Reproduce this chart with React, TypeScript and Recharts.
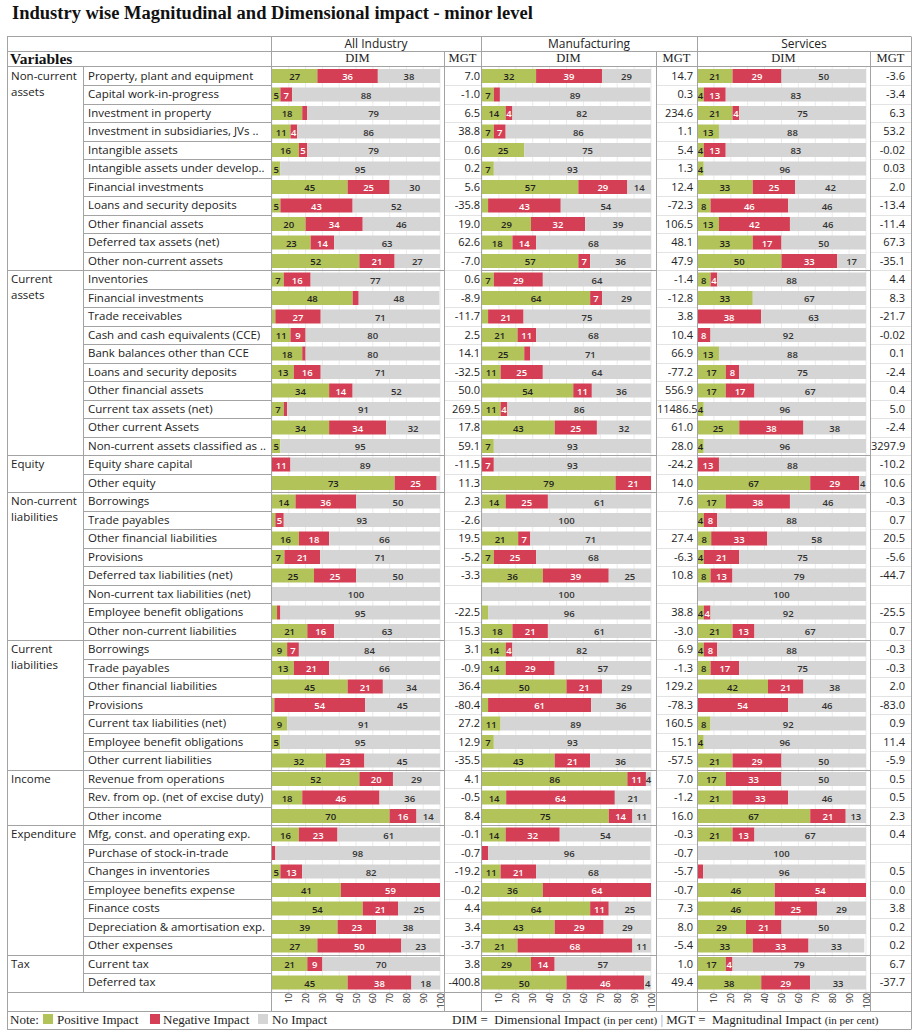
import React from "react";
import { BarChart, Bar, XAxis, YAxis, CartesianGrid, LabelList } from "recharts";

// ---------------- DATA ----------------
const groupNames = [
  "Non-current assets",
  "Current assets",
  "Equity",
  "Non-current liabilities",
  "Current liabilities",
  "Income",
  "Expenditure",
  "Tax",
];
const groupSizes = [11, 10, 2, 8, 7, 3, 7, 2];

const variables = [
  "Property, plant and equipment",
  "Capital work-in-progress",
  "Investment in property",
  "Investment in subsidiaries, JVs ..",
  "Intangible assets",
  "Intangible assets under develop..",
  "Financial investments",
  "Loans and security deposits",
  "Other financial assets",
  "Deferred tax assets (net)",
  "Other non-current assets",
  "Inventories",
  "Financial investments",
  "Trade receivables",
  "Cash and cash equivalents (CCE)",
  "Bank balances other than CCE",
  "Loans and security deposits",
  "Other financial assets",
  "Current tax assets (net)",
  "Other current Assets",
  "Non-current assets classified as ..",
  "Equity share capital",
  "Other equity",
  "Borrowings",
  "Trade payables",
  "Other financial liabilities",
  "Provisions",
  "Deferred tax liabilities (net)",
  "Non-current tax liabilities (net)",
  "Employee benefit obligations",
  "Other non-current liabilities",
  "Borrowings",
  "Trade payables",
  "Other financial liabilities",
  "Provisions",
  "Current tax liabilities (net)",
  "Employee benefit obligations",
  "Other current liabilities",
  "Revenue from operations",
  "Rev. from op. (net of excise duty)",
  "Other income",
  "Mfg, const. and operating exp.",
  "Purchase of stock-in-trade",
  "Changes in inventories",
  "Employee benefits expense",
  "Finance costs",
  "Depreciation & amortisation exp.",
  "Other expenses",
  "Current tax",
  "Deferred tax",
];

const allPositive = [27, 5, 18, 11, 16, 5, 45, 5, 20, 23, 52, 7, 48, 2, 11, 18, 13, 34, 7, 34, 5, 0, 73, 14, 2, 16, 7.4, 25, 0, 3, 21, 9, 13, 45, 1.4, 9, 5, 32, 52, 18, 70, 16, 0, 5, 41, 54, 39, 27, 21, 45];
const allNegative = [36, 7, 3, 4, 5, 0, 25, 43, 34, 14, 21, 16, 3.6, 27, 9, 2, 16, 14, 2, 34, 0, 11, 25, 36, 5, 18, 21.3, 25, 0, 2, 16, 7, 21, 21, 54, 0, 0, 23, 20, 46, 16, 23, 2, 13, 59, 21, 23, 50, 9, 38];
const allNoImpact = [38, 88, 79, 86, 79, 95, 30, 52, 46, 63, 27, 77, 48, 71, 80, 80, 71, 52, 91, 32, 95, 89, 2, 50, 93, 66, 71.3, 50, 100, 95, 63, 84, 66, 34, 45, 91, 95, 45, 29, 36, 14, 61, 98, 82, 0, 25, 38, 23, 70, 18];

const mfgPositive = [32, 7, 14, 7, 25, 7, 57, 3.6, 29, 18, 57, 7, 64, 3.6, 21, 25, 11, 54, 11, 43, 7, 0, 79, 14, 0, 21.4, 7, 36, 0, 3.6, 18, 14, 14, 50, 3.6, 11, 7, 43, 86, 14.3, 75, 14, 0, 11, 36, 64, 43, 21, 29, 50];
const mfgNegative = [39, 3.6, 4, 7, 0, 0, 29, 43, 32, 14, 7, 29, 7, 21, 11, 3.6, 25, 11, 4, 25, 0, 7, 21, 25, 0, 7.2, 25, 39, 0, 0, 21, 4, 29, 21, 61, 0, 0, 21, 11, 64.3, 14, 32, 3.6, 21, 64, 11, 29, 68, 14, 46];
const mfgNoImpact = [29, 89, 82, 86, 75, 93, 14, 54, 39, 68, 36, 64, 29, 75, 68, 71, 64, 36, 86, 32, 93, 93, 0, 61, 100, 71.4, 68, 25, 100, 96, 61, 82, 57, 29, 36, 89, 93, 36, 4, 21.4, 11, 54, 96, 68, 0, 25, 29, 11, 57, 4];

const svcPositive = [21, 4, 21, 13, 4, 4, 33, 8, 13, 33, 50, 8, 33, 0, 0, 13, 17, 17, 4, 25, 4, 0, 67, 17, 4, 8.4, 4, 8, 0, 4, 21, 4, 8, 42, 0, 8, 4, 21, 17, 21, 67, 21, 0, 0, 46, 46, 29, 33, 17, 38];
const svcNegative = [29, 13, 4, 0, 13, 0, 25, 46, 42, 17, 33, 4, 0, 38, 8, 0, 8, 17, 0, 38, 0, 13, 29, 38, 8, 33.2, 21, 13, 0, 4, 13, 8, 17, 21, 54, 0, 0, 29, 33, 33, 21, 13, 0, 3.6, 54, 25, 21, 33, 4, 29];
const svcNoImpact = [50, 83, 75, 88, 83, 96, 42, 46, 46, 50, 17, 88, 67, 63, 92, 88, 75, 67, 96, 38, 96, 88, 4, 46, 88, 58.4, 75, 79, 100, 92, 67, 88, 75, 38, 46, 92, 96, 50, 50, 46, 13, 67, 100, 96, 0, 29, 50, 33, 79, 33];

const allMgt = ["7.0", "-1.0", "6.5", "38.8", "0.6", "0.2", "5.6", "-35.8", "19.0", "62.6", "-7.0", "0.6", "-8.9", "-11.7", "2.5", "14.1", "-32.5", "50.0", "269.5", "17.8", "59.1", "-11.5", "11.3", "2.3", "-2.6", "19.5", "-5.2", "-3.3", "", "-22.5", "15.3", "3.1", "-0.9", "36.4", "-80.4", "27.2", "12.9", "-35.5", "4.1", "-0.5", "8.4", "-0.1", "-0.7", "-19.2", "-0.2", "4.4", "3.4", "-3.7", "3.8", "-400.8"];
const mfgMgt = ["14.7", "0.3", "234.6", "1.1", "5.4", "1.3", "12.4", "-72.3", "106.5", "48.1", "47.9", "-1.4", "-12.8", "3.8", "10.4", "66.9", "-77.2", "556.9", "11486.5", "61.0", "28.0", "-24.2", "14.0", "7.6", "", "27.4", "-6.3", "10.8", "", "38.8", "-3.0", "6.9", "-1.3", "129.2", "-78.3", "160.5", "15.1", "-57.5", "7.0", "-1.2", "16.0", "-0.3", "-0.7", "-5.7", "-0.7", "7.3", "8.0", "-5.4", "1.0", "49.4"];
const svcMgt = ["-3.6", "-3.4", "6.3", "53.2", "-0.02", "0.03", "2.0", "-13.4", "-11.4", "67.3", "-35.1", "4.4", "8.3", "-21.7", "-0.02", "0.1", "-2.4", "0.4", "5.0", "-2.4", "3297.9", "-10.2", "10.6", "-0.3", "0.7", "20.5", "-5.6", "-44.7", "", "-25.5", "0.7", "-0.3", "-0.3", "2.0", "-83.0", "0.9", "11.4", "-5.9", "0.5", "0.5", "2.3", "0.4", "", "0.5", "0.0", "3.8", "0.2", "0.2", "6.7", "-37.7"];

const panelTitles = ["All Industry", "Manufacturing", "Services"];
const axisTicks = [10, 20, 30, 40, 50, 60, 70, 80, 90, 100];
const legendLabels = ["Positive Impact", "Negative Impact", "No Impact"];

// ---------------- STYLE / LAYOUT ----------------
const GREEN = "#b2c459";
const RED = "#d43f55";
const GRAY = "#d5d5d5";
const LINE = "#a3a3a3";
const FAINT = "#e3e3e3";
const SANS = '"Open Sans", "Noto Sans", sans-serif';
const SERIF = '"Liberation Serif", "Times New Roman", serif';

const TOP = 66.7;
const ROW = 18.5;
const AXIS_H = 19;
const PAD_R = 8;
const X0 = 7;
const XG = 83;
const XV = 271;
const XR = 911;
const HEAD_TOP = 35.5;
const HEAD_MID = 50.5;
const AXIS_BOTTOM = 1010.5;
const FOOT_BOTTOM = 1028.5;

const panelLayout = [
  { dimL: 271, dimR: 444, mgtR: 481, barL: 272, barW: 168, textR: 480 },
  { dimL: 481, dimR: 656, mgtR: 697, barL: 482, barW: 169, textR: 693 },
  { dimL: 697, dimR: 870, mgtR: 911, barL: 697, barW: 169, textR: 905 },
];

const panelSeries = [
  { pos: allPositive, neg: allNegative, none: allNoImpact, mgt: allMgt },
  { pos: mfgPositive, neg: mfgNegative, none: mfgNoImpact, mgt: mfgMgt },
  { pos: svcPositive, neg: svcNegative, none: svcNoImpact, mgt: svcMgt },
];

const AxisTick = (props: any) => {
  const { x, y, payload } = props;
  return (
    <text
      x={x}
      y={y}
      transform={`rotate(-90 ${x} ${y})`}
      textAnchor="end"
      dominantBaseline="central"
      fontSize={9}
      fontFamily={SANS}
      fill="#333"
    >
      {payload.value}
    </text>
  );
};

function makeLabel(color: string) {
  return (props: any) => {
    let v: any = props.value;
    if (Array.isArray(v)) v = v[1] - v[0];
    v = Number(v);
    if (!(v >= 3.8)) return null;
    const x = Number(props.x);
    const y = Number(props.y);
    const w = Number(props.width);
    const h = Number(props.height);
    return (
      <text
        x={x + w / 2}
        y={y + h / 2 + 0.5}
        textAnchor="middle"
        dominantBaseline="central"
        fontSize={9.5}
        fontWeight={600}
        fontFamily={SANS}
        fill={color}
      >
        {Math.round(v)}
      </text>
    );
  };
}

function Panel({ idx }: { idx: number }) {
  const s = panelSeries[idx];
  const L = panelLayout[idx];
  const rows = variables.map((name, i) => ({
    key: `r${i}`,
    name,
    pos: s.pos[i],
    neg: s.neg[i],
    none: s.none[i],
  }));
  return (
    <div style={{ position: "absolute", left: L.barL, top: TOP }}>
      <BarChart
        layout="vertical"
        width={L.barW + PAD_R}
        height={variables.length * ROW + AXIS_H}
        data={rows}
        margin={{ top: 0, right: PAD_R, bottom: 0, left: 0 }}
        barSize={14}
      >
        <CartesianGrid horizontal={false} stroke="#ebebeb" />
        <XAxis
          type="number"
          domain={[0, 100]}
          allowDataOverflow
          ticks={axisTicks}
          interval={0}
          axisLine={false}
          tickLine={false}
          tickSize={0}
          tickMargin={1}
          height={AXIS_H}
          tick={<AxisTick />}
        />
        <YAxis type="category" dataKey="key" hide />
        <Bar dataKey="pos" stackId="s" fill={GREEN} isAnimationActive={false}>
          <LabelList dataKey="pos" content={makeLabel("#222")} />
        </Bar>
        <Bar dataKey="neg" stackId="s" fill={RED} isAnimationActive={false}>
          <LabelList dataKey="neg" content={makeLabel("#ffffff")} />
        </Bar>
        <Bar dataKey="none" stackId="s" fill={GRAY} isAnimationActive={false}>
          <LabelList dataKey="none" content={makeLabel("#333")} />
        </Bar>
      </BarChart>
    </div>
  );
}

export default function App() {
  const n = variables.length;
  const bodyBottom = TOP + n * ROW;
  const groupStarts: number[] = [];
  let acc = 0;
  groupSizes.forEach((g) => {
    groupStarts.push(acc);
    acc += g;
  });
  const px = (v: number) => Math.round(v) + 0.5;

  const lines: any[] = [];
  const hl = (x1: number, x2: number, y: number, c: string, k: string) =>
    lines.push(<line key={k} x1={x1} x2={x2} y1={px(y)} y2={px(y)} stroke={c} strokeWidth={1} />);
  const vl = (x: number, y1: number, y2: number, c: string, k: string) =>
    lines.push(<line key={k} x1={px(x)} x2={px(x)} y1={px(y1)} y2={px(y2)} stroke={c} strokeWidth={1} />);

  for (let i = 1; i < n; i++) {
    const y = TOP + i * ROW;
    const isGroup = groupStarts.includes(i);
    panelLayout.forEach((L, p) => hl(L.dimR + 1, L.mgtR, y, FAINT, `mf${i}-${p}`));
    if (isGroup) {
      hl(X0, panelLayout[0].dimR, y, LINE, `g${i}`);
      hl(panelLayout[1].dimL, panelLayout[1].dimR, y, LINE, `g1${i}`);
      hl(panelLayout[2].dimL, panelLayout[2].dimR, y, LINE, `g2${i}`);
    } else {
      hl(XG, XV, y, LINE, `r${i}`);
    }
  }
  // table frame
  hl(X0, XR, HEAD_TOP, LINE, "ht");
  hl(X0, XR, HEAD_MID, LINE, "hm");
  hl(X0, XR, TOP - 0.7, LINE, "hb");
  hl(X0, XR, bodyBottom, LINE, "bb");
  hl(X0, XR, AXIS_BOTTOM, LINE, "ab");
  hl(X0, XR, FOOT_BOTTOM, LINE, "fb");
  vl(X0, HEAD_TOP, FOOT_BOTTOM, LINE, "v0");
  vl(XR, HEAD_TOP, FOOT_BOTTOM, LINE, "vr");
  vl(XG, TOP - 0.7, bodyBottom, LINE, "vg");
  panelLayout.forEach((L, p) => {
    vl(L.dimL, HEAD_TOP, AXIS_BOTTOM, LINE, `vd${p}`);
    vl(L.dimR, HEAD_MID, AXIS_BOTTOM, LINE, `vm${p}`);
  });

  return (
    <div
      style={{
        position: "absolute",
        left: 0,
        top: 0,
        width: 913,
        height: 1036,
        background: "#fff",
        fontFamily: SANS,
        color: "#222",
        overflow: "hidden",
      }}
    >
      <div
        style={{
          position: "absolute",
          left: 12,
          top: 2,
          fontFamily: SERIF,
          fontWeight: 700,
          fontSize: 18.5,
          lineHeight: "22px",
          whiteSpace: "nowrap",
          color: "#111",
        }}
      >
        Industry wise Magnitudinal and Dimensional impact - minor level
      </div>

      {/* header */}
      <div
        style={{
          position: "absolute",
          left: 10,
          top: 51,
          height: 16,
          lineHeight: "16px",
          fontFamily: SERIF,
          fontWeight: 700,
          fontSize: 15.5,
          color: "#111",
        }}
      >
        Variables
      </div>
      {panelLayout.map((L, p) => (
        <React.Fragment key={`h${p}`}>
          <div
            style={{
              position: "absolute",
              left: L.dimL,
              width: L.mgtR - L.dimL,
              top: 36,
              height: 15,
              lineHeight: "15px",
              textAlign: "center",
              fontSize: 12,
            }}
          >
            {panelTitles[p]}
          </div>
          <div
            style={{
              position: "absolute",
              left: L.dimL,
              width: L.dimR - L.dimL,
              top: 51,
              height: 15,
              lineHeight: "15px",
              textAlign: "center",
              fontFamily: SERIF,
              fontSize: 12.5,
            }}
          >
            DIM
          </div>
          <div
            style={{
              position: "absolute",
              left: L.dimR,
              width: L.mgtR - L.dimR,
              top: 51,
              height: 15,
              lineHeight: "15px",
              textAlign: "center",
              fontFamily: SERIF,
              fontSize: 12.5,
            }}
          >
            MGT
          </div>
        </React.Fragment>
      ))}

      {/* group labels */}
      {groupNames.map((g, k) => (
        <div
          key={`grp${k}`}
          style={{
            position: "absolute",
            left: 11,
            width: 70,
            top: TOP + groupStarts[k] * ROW + 1,
            lineHeight: "16px",
            fontSize: 11.5,
          }}
        >
          {g}
        </div>
      ))}

      {/* variable labels and MGT values */}
      {variables.map((v, i) => (
        <div
          key={`var${i}`}
          style={{
            position: "absolute",
            left: 88,
            top: TOP + i * ROW,
            height: ROW,
            lineHeight: `${ROW}px`,
            fontSize: 11.5,
            whiteSpace: "nowrap",
          }}
        >
          {v}
        </div>
      ))}
      {panelLayout.map((L, p) =>
        panelSeries[p].mgt.map((m, i) => (
          <div
            key={`mgt${p}-${i}`}
            style={{
              position: "absolute",
              left: L.dimR + 1,
              width: L.textR - L.dimR - 1,
              top: TOP + i * ROW,
              height: ROW,
              lineHeight: `${ROW}px`,
              fontSize: 11,
              textAlign: "right",
              whiteSpace: "nowrap",
            }}
          >
            {m}
          </div>
        ))
      )}

      {/* charts */}
      <Panel idx={0} />
      <Panel idx={1} />
      <Panel idx={2} />

      <svg
        width={913}
        height={1036}
        style={{ position: "absolute", left: 0, top: 0, pointerEvents: "none" }}
      >
        {lines}
      </svg>

      {/* footer */}
      <div
        style={{
          position: "absolute",
          left: 10,
          top: 1011,
          height: 17,
          lineHeight: "17px",
          fontFamily: SERIF,
          fontSize: 13,
          whiteSpace: "nowrap",
        }}
      >
        Note:
      </div>
      {[GREEN, RED, GRAY].map((c, k) => (
        <React.Fragment key={`lg${k}`}>
          <div
            style={{
              position: "absolute",
              left: [43, 150, 258][k],
              top: 1014,
              width: 10,
              height: 10,
              background: c,
            }}
          />
          <div
            style={{
              position: "absolute",
              left: [57, 163, 272][k],
              top: 1011,
              height: 17,
              lineHeight: "17px",
              fontFamily: SERIF,
              fontSize: 13,
              whiteSpace: "nowrap",
            }}
          >
            {legendLabels[k]}
          </div>
        </React.Fragment>
      ))}
      <div
        style={{
          position: "absolute",
          left: 452,
          top: 1011,
          height: 17,
          lineHeight: "17px",
          fontFamily: SERIF,
          fontSize: 13,
          whiteSpace: "nowrap",
        }}
      >
        DIM = &nbsp;Dimensional Impact <span style={{ fontSize: 11 }}>(in per cent)</span>{" "}
        <span style={{ color: "#7b9bd0" }}>|</span> MGT = &nbsp;Magnitudinal Impact{" "}
        <span style={{ fontSize: 11 }}>(in per cent)</span>
      </div>
    </div>
  );
}
